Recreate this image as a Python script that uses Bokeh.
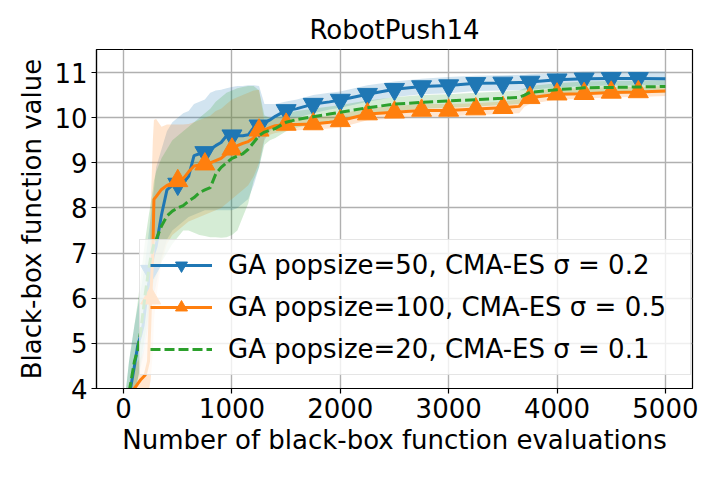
from bokeh.plotting import figure
from bokeh.models import Range1d, FixedTicker, Legend, LegendItem, ColumnDataSource
from bokeh.embed import file_html
from bokeh.resources import INLINE

# Evaluation counts (x grid)
evals = [0, 50, 100, 130, 160, 180, 200, 230, 250, 270, 280, 300, 350, 400, 450, 500, 550, 600, 650,
         700, 750, 800, 850, 900, 950, 1000, 1050, 1100, 1150, 1200, 1250, 1300, 1350, 1400, 1500,
         1600, 1750, 1900, 2000, 2250, 2500, 2750, 3000, 3250, 3500, 3650, 3700, 3750, 4000, 4250,
         4500, 4750, 5000]

# GA popsize=50, CMA-ES sigma=0.2 (blue)
blue_mean = [3.0, 3.8, 4.5, 4.95, 5.2, 5.4, 5.8, 6.3, 6.6, 6.9, 7.0, 7.15, 7.85, 8.4, 8.5, 8.53, 8.55,
             8.7, 9.16, 9.2, 9.23, 9.3, 9.38, 9.45, 9.6, 9.6, 9.6, 9.6, 9.62, 9.78, 9.82, 9.88, 9.95,
             10.03, 10.16, 10.2, 10.3, 10.35, 10.39, 10.52, 10.63, 10.69, 10.71, 10.76, 10.77, 10.78,
             10.78, 10.79, 10.84, 10.86, 10.87, 10.87, 10.86]
blue_lo = [2.5, 3.0, 3.8, 4.2, 4.5, 4.7, 5.0, 5.4, 5.7, 6.0, 6.1, 6.3, 6.9, 7.3, 7.5, 7.6, 7.7, 7.8,
           7.85, 7.9, 7.95, 7.95, 7.95, 7.95, 7.95, 7.95, 8.0, 8.1, 8.2, 8.5, 8.9, 9.5, 9.7, 9.8, 9.95,
           10.0, 10.1, 10.18, 10.22, 10.35, 10.46, 10.52, 10.54, 10.59, 10.6, 10.61, 10.61, 10.62,
           10.67, 10.7, 10.71, 10.72, 10.72]
blue_hi = [3.5, 4.6, 5.4, 5.8, 6.2, 6.5, 6.8, 7.4, 7.8, 8.2, 8.4, 8.9, 9.3, 9.7, 9.9, 10.0, 10.1,
           10.15, 10.3, 10.35, 10.4, 10.55, 10.6, 10.62, 10.65, 10.68, 10.7, 10.7, 10.72, 10.72, 10.7,
           10.3, 10.3, 10.3, 10.36, 10.4, 10.5, 10.55, 10.58, 10.72, 10.8, 10.86, 10.9, 10.93, 10.94,
           10.95, 10.95, 10.96, 10.99, 11.02, 11.03, 11.03, 11.02]

# GA popsize=100, CMA-ES sigma=0.5 (orange)
orange_mean = [3.0, 3.6, 4.0, 4.1, 4.2, 4.25, 4.3, 4.6, 6.0, 7.0, 8.19, 8.25, 8.41, 8.5, 8.55, 8.6,
               8.65, 8.8, 8.93, 8.95, 8.97, 9.0, 9.05, 9.1, 9.2, 9.3, 9.38, 9.43, 9.47, 9.55, 9.72,
               9.73, 9.78, 9.82, 9.85, 9.85, 9.86, 9.9, 9.93, 10.08, 10.12, 10.16, 10.16, 10.19, 10.22,
               10.25, 10.38, 10.44, 10.52, 10.53, 10.56, 10.57, 10.59]
orange_lo = [2.5, 3.1, 3.5, 3.6, 3.7, 3.75, 3.8, 3.9, 4.2, 4.8, 5.5, 6.0, 6.8, 7.2, 7.4, 7.5, 7.6,
             7.7, 7.75, 7.8, 7.85, 7.9, 7.95, 8.0, 8.1, 8.2, 8.3, 8.4, 8.5, 8.7, 9.0, 9.55, 9.62, 9.66,
             9.7, 9.72, 9.74, 9.76, 9.78, 9.94, 9.98, 10.02, 10.03, 10.06, 10.08, 10.1, 10.24, 10.3,
             10.4, 10.42, 10.45, 10.46, 10.48]
orange_hi = [3.5, 4.1, 4.5, 4.6, 4.7, 4.8, 5.0, 6.0, 8.0, 9.5, 9.95, 9.97, 9.8, 9.85, 9.85, 9.85,
             9.85, 9.86, 9.9, 9.95, 10.0, 10.04, 10.15, 10.2, 10.3, 10.4, 10.45, 10.5, 10.55, 10.6,
             10.62, 9.9, 9.94, 9.98, 10.0, 10.0, 10.0, 10.04, 10.08, 10.22, 10.26, 10.3, 10.3, 10.32,
             10.36, 10.4, 10.52, 10.58, 10.64, 10.65, 10.68, 10.68, 10.7]

# GA popsize=20, CMA-ES sigma=0.1 (green)
green_mean = [3.0, 3.9, 4.6, 4.85, 5.3, 5.7, 6.1, 6.6, 6.9, 7.1, 7.2, 7.3, 7.6, 7.82, 7.93, 8.0, 8.05,
              8.15, 8.23, 8.34, 8.4, 8.45, 8.75, 8.9, 9.0, 9.1, 9.15, 9.2, 9.3, 9.45, 9.6, 9.68, 9.72,
              9.76, 9.9, 9.96, 10.02, 10.08, 10.12, 10.22, 10.3, 10.34, 10.37, 10.4, 10.43, 10.45,
              10.5, 10.56, 10.62, 10.66, 10.67, 10.68, 10.69]
green_lo = [2.5, 3.2, 3.9, 4.2, 4.6, 4.9, 5.2, 5.7, 6.0, 6.3, 6.4, 6.5, 6.8, 7.0, 7.2, 7.35, 7.5, 7.5,
            7.45, 7.4, 7.38, 7.35, 7.35, 7.34, 7.35, 7.4, 7.5, 7.8, 8.1, 8.6, 8.9, 9.4, 9.5, 9.55,
            9.7, 9.78, 9.85, 9.92, 9.96, 10.06, 10.15, 10.2, 10.22, 10.25, 10.28, 10.3, 10.35, 10.42,
            10.48, 10.52, 10.53, 10.54, 10.55]
green_hi = [3.5, 4.6, 5.4, 5.9, 6.5, 6.9, 7.3, 7.8, 8.1, 8.4, 8.6, 8.8, 9.1, 9.3, 9.5, 9.6, 9.7, 9.8,
            9.9, 10.0, 10.1, 10.2, 10.35, 10.45, 10.55, 10.6, 10.65, 10.68, 10.7, 10.7, 10.6, 10.05,
            10.0, 10.0, 10.1, 10.15, 10.2, 10.25, 10.28, 10.38, 10.45, 10.5, 10.52, 10.55, 10.58, 10.6,
            10.65, 10.7, 10.76, 10.8, 10.81, 10.82, 10.83]

labels = ["GA popsize=50, CMA-ES σ = 0.2",
          "GA popsize=100, CMA-ES σ = 0.5",
          "GA popsize=20, CMA-ES σ = 0.1"]
x_ticks = [0, 1000, 2000, 3000, 4000, 5000]
y_ticks = [4, 5, 6, 7, 8, 9, 10, 11]

FONT = "DejaVu Sans"
FS = "26px"

p = figure(width=704, height=464, output_backend="svg", toolbar_location=None,
           x_range=Range1d(-250, 5250), y_range=Range1d(4, 11.51),
           min_border_left=96, min_border_right=12, min_border_top=49, min_border_bottom=76)
p.title.text = "RobotPush14"
p.title.align = "center"
p.title.text_font = FONT
p.title.text_font_size = FS
p.title.text_font_style = "normal"
p.title.text_color = "black"

p.xaxis.axis_label = "Number of black-box function evaluations"
p.yaxis.axis_label = "Black-box function value"
for ax in (p.xaxis[0], p.yaxis[0]):
    ax.axis_label_text_font = FONT
    ax.axis_label_text_font_size = FS
    ax.axis_label_text_font_style = "normal"
    ax.axis_label_text_color = "black"
    ax.major_label_text_font = FONT
    ax.major_label_text_font_size = FS
    ax.major_label_text_color = "black"
    ax.minor_tick_line_color = None
    ax.major_tick_out = 5
    ax.major_tick_in = 0
    ax.major_tick_line_color = "black"
    ax.major_tick_line_width = 1.2
    ax.axis_line_color = "black"
    ax.axis_line_width = 1.2
    ax.major_label_standoff = 4
    ax.axis_label_standoff = 4
p.xaxis[0].ticker = FixedTicker(ticks=x_ticks)
p.yaxis[0].ticker = FixedTicker(ticks=y_ticks)

p.grid.grid_line_color = "#b0b0b0"
p.grid.grid_line_width = 1.4
p.xgrid[0].ticker = FixedTicker(ticks=x_ticks)
p.ygrid[0].ticker = FixedTicker(ticks=y_ticks)
p.outline_line_color = "black"
p.outline_line_width = 1.2

colors = ["#1f77b4", "#ff7f0e", "#2ca02c"]
series = [(blue_mean, blue_lo, blue_hi), (orange_mean, orange_lo, orange_hi),
          (green_mean, green_lo, green_hi)]

for (m, lo, hi), c in zip(series, colors):
    p.varea(x=evals, y1=lo, y2=hi, fill_color=c, fill_alpha=0.2)

mark_idx = [i for i, e in enumerate(evals) if e % 250 == 0 and e < 5000]
items = []
markers = ["inverted_triangle", "triangle", None]
dashes = ["solid", "solid", "10 4"]
for (m, lo, hi), c, mk, dash, lab in zip(series, colors, markers, dashes, labels):
    r_line = p.line(evals, m, line_color=c, line_width=3, line_dash=dash)
    rs = [r_line]
    if mk is not None:
        src = ColumnDataSource(dict(x=[evals[i] for i in mark_idx], y=[m[i] for i in mark_idx]))
        r_m = p.scatter("x", "y", source=src, marker=mk, size=20, fill_color=c, line_color=c)
        rs.append(r_m)
    items.append(LegendItem(label=lab, renderers=rs))

legend = Legend(items=items, location=(43, 13))
legend.label_text_font = FONT
legend.label_text_font_size = FS
legend.label_text_color = "black"
legend.glyph_width = 62
legend.glyph_height = 30
legend.label_height = 30
legend.label_width = 452
legend.spacing = 12
legend.padding = 10
legend.label_standoff = 16
legend.border_line_color = "#cccccc"
legend.border_line_width = 1.2
legend.background_fill_color = "white"
legend.background_fill_alpha = 0.8
p.add_layout(legend, "center")

open("out.html", "w").write(file_html(p, INLINE))
